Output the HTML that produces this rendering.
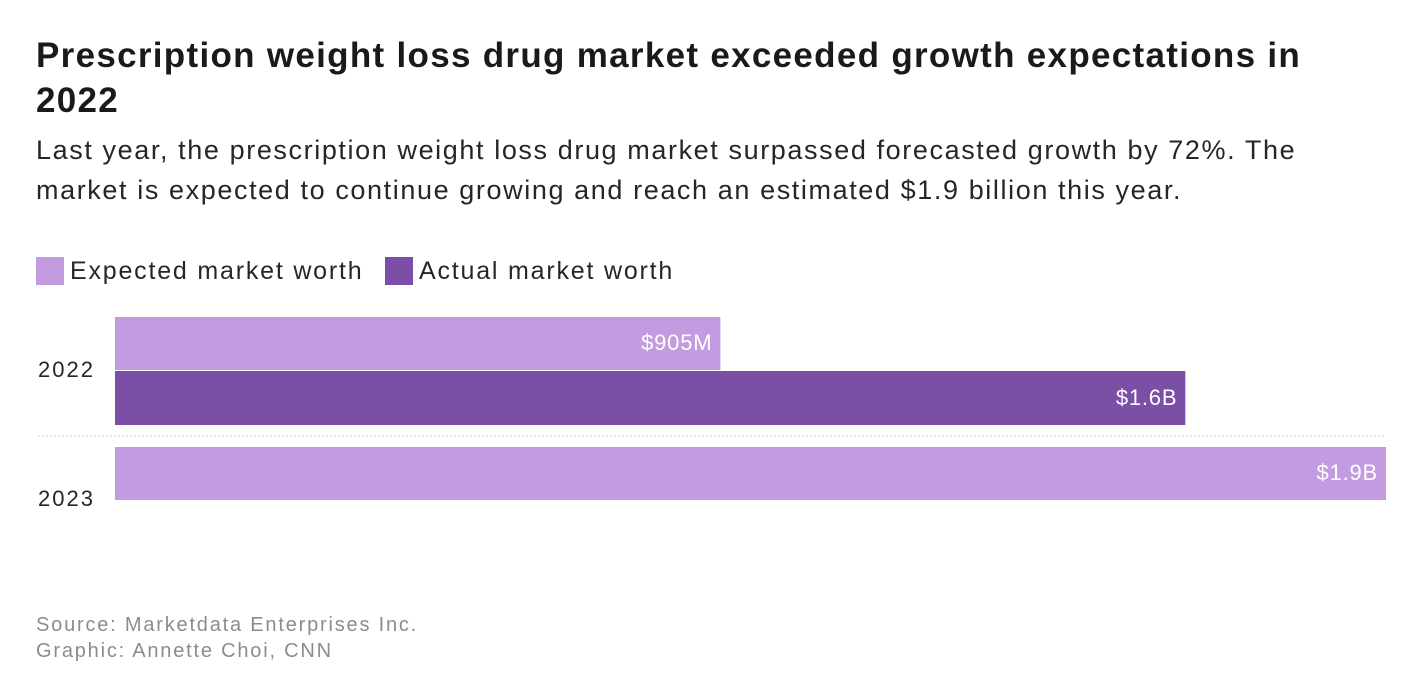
<!DOCTYPE html>
<html><head><meta charset="utf-8">
<style>
body{margin:0;width:1412px;height:682px;background:#fff;font-family:"Liberation Sans",Arial,sans-serif;position:relative;overflow:hidden;color:#262626}
.abs{position:absolute}
#title{left:36px;top:33px;font-size:35px;font-weight:bold;line-height:45px;width:1370px;color:#1a1a1a;letter-spacing:1.3px;white-space:nowrap}
#sub{left:36px;top:130px;font-size:27px;line-height:40px;width:1370px;color:#262626;letter-spacing:1.6px;white-space:nowrap}
.leg{top:256px;font-size:25px;line-height:30px;display:flex;align-items:center;letter-spacing:1.8px;white-space:nowrap}
.sw{width:28px;height:28px;margin-right:6px}
.src{left:36px;font-size:20px;color:#8c8c8c;letter-spacing:1.8px}
</style></head><body>
<div id="title" class="abs">Prescription weight loss drug market exceeded growth expectations in<br>2022</div>
<div id="sub" class="abs">Last year, the prescription weight loss drug market surpassed forecasted growth by 72%. The<br>market is expected to continue growing and reach an estimated $1.9 billion this year.</div>
<div class="abs leg" style="left:36px"><div class="sw" style="background:#c39be0"></div>Expected market worth</div>
<div class="abs leg" style="left:385px"><div class="sw" style="background:#7b4fa6"></div>Actual market worth</div>
<svg class="abs" style="left:0;top:0" width="1412" height="682" id="chart"></svg>
<div class="abs src" style="top:614px">Source: Marketdata Enterprises Inc.</div>
<div class="abs src" style="top:640px">Graphic: Annette Choi, CNN</div>
<script>
const years=["2022","2023"];
const expected=[0.905,1.9];
const actual=[1.6,null];
const expectedLabels=["$905M","$1.9B"];
const actualLabels=["$1.6B",""];
const NS="http://www.w3.org/2000/svg";
const svg=document.getElementById('chart');
const x0=115,x1=1386,maxV=1.9;
const xs=v=>x0+(v/maxV)*(x1-x0);
const groupTop=[317,447];
const bh=53;
function el(t,a){const e=document.createElementNS(NS,t);for(const k in a)e.setAttribute(k,a[k]);svg.appendChild(e);return e;}
const sep=el('line',{x1:38,x2:1386,y1:436,y2:436,stroke:'#bbb','stroke-dasharray':'1.5,2.5'});


years.forEach((y,i)=>{
  const top=groupTop[i];
  const hasActual=actual[i]!=null;
  const lab=el('text',{x:38,y:hasActual?top+60:top+59,'font-size':22,fill:'#262626','letter-spacing':'2px'});
  lab.textContent=y;
  
  
  const r=el('rect',{x:x0,y:top,width:xs(expected[i])-x0,height:bh,fill:'#c39be0'});
  
  
  const t=el('text',{x:xs(expected[i])-8,y:top+33,'font-size':22,fill:'#fff','text-anchor':'end','letter-spacing':'0.8px'});
  t.textContent=expectedLabels[i];
  
  
  if(hasActual){
    const r2=el('rect',{x:x0,y:top+bh+1,width:xs(actual[i])-x0,height:bh+1,fill:'#7b4fa6'});
    
    
    const t2=el('text',{x:xs(actual[i])-8,y:top+bh+35,'font-size':22,fill:'#fff','text-anchor':'end','letter-spacing':'0.8px'});
    t2.textContent=actualLabels[i];
    
    
  }
});
</script>
</body></html>
